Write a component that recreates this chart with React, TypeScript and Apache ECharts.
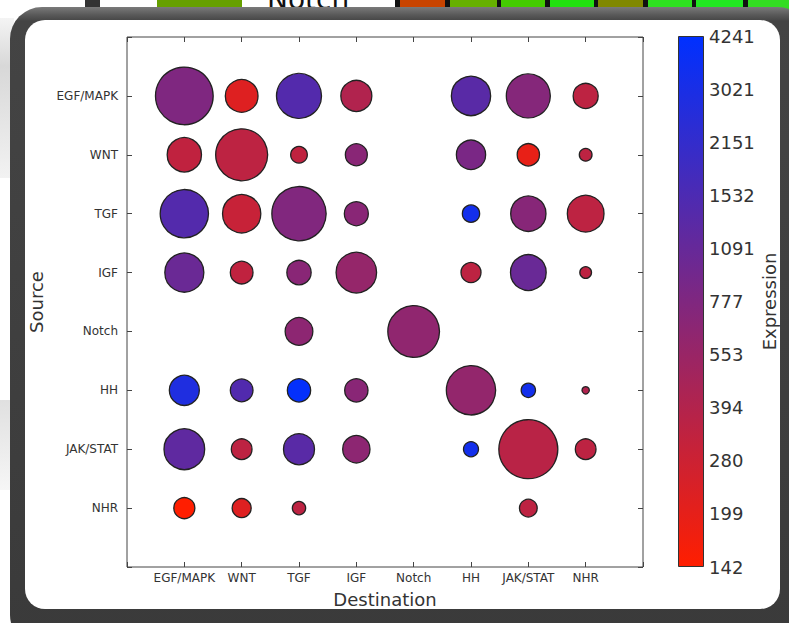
import { useEffect, useRef } from 'react';
import * as echarts from 'echarts';

const destinations = ['EGF/MAPK', 'WNT', 'TGF', 'IGF', 'Notch', 'HH', 'JAK/STAT', 'NHR'];
const sources = ['EGF/MAPK', 'WNT', 'TGF', 'IGF', 'Notch', 'HH', 'JAK/STAT', 'NHR'];
const colorbarTicks = ['142', '199', '280', '394', '553', '777', '1091', '1532', '2151', '3021', '4241'];
const EXPR_MIN = 142;
const EXPR_MAX = 4241;

// bubble size (area units), one row per source, one column per destination
const sizeEGF = [92.5, 29.7, 56.3, 26.7, null, 42.9, 53.8, 17.4];
const sizeWNT = [32.7, 75.1, 7.7, 13.4, null, 23.8, 13.8, 4.5];
const sizeTGF = [64.8, 40.7, 81.9, 16, null, 8.3, 34.6, 37.4];
const sizeIGF = [42.3, 14.3, 16.4, 45.6, null, 11.1, 35.4, 3.8];
const sizeNotch = [null, null, 21.3, null, 74.2, null, null, null];
const sizeHH = [25, 14.3, 15.1, 15.1, null, 67.5, 5.7, 1.5];
const sizeJAK = [46, 11.9, 26.7, 20.7, null, 6.25, 96.7, 11.9];
const sizeNHR = [12.3, 10, 4.9, null, null, null, 8.7, null];

// expression, one row per source
const exprEGF = [780, 220, 1400, 400, null, 1300, 720, 340];
const exprWNT = [330, 340, 330, 680, null, 830, 193, 340];
const exprTGF = [1400, 300, 760, 680, null, 3300, 700, 340];
const exprIGF = [1035, 330, 680, 585, null, 340, 1050, 340];
const exprNotch = [null, null, 650, null, 620, null, null, null];
const exprHH = [2800, 1450, 4000, 680, null, 600, 3300, 400];
const exprJAK = [1200, 340, 1300, 650, null, 3300, 360, 340];
const exprNHR = [142, 220, 340, null, null, null, 340, null];

const sizeRows = [sizeEGF, sizeWNT, sizeTGF, sizeIGF, sizeNotch, sizeHH, sizeJAK, sizeNHR];
const exprRows = [exprEGF, exprWNT, exprTGF, exprIGF, exprNotch, exprHH, exprJAK, exprNHR];

const CB_LOW = '#ff1e00';
const CB_HIGH = '#0030ff';
const FONT = 'DejaVu Sans';

const logPos = (v: number) => (10 * Math.log(v / EXPR_MIN)) / Math.log(EXPR_MAX / EXPR_MIN);

const points: any[] = [];
sizeRows.forEach((row, yi) => {
  row.forEach((s, xi) => {
    const e = exprRows[yi][xi];
    if (s != null && e != null) points.push([xi, yi, s, logPos(e), e]);
  });
});

const stripBoxes: [number, number, string][] = [
  [400, 445, '#c84400'],
  [450, 497, '#66b000'],
  [501, 545, '#44cc00'],
  [550, 594, '#22e010'],
  [598, 643, '#808800'],
  [648, 692, '#2ee020'],
  [696, 743, '#22e822'],
];

const graphics: any[] = [
  { type: 'rect', z: -30, shape: { x: 85, y: 0, width: 15, height: 12 }, style: { fill: '#333' } },
  { type: 'rect', z: -30, shape: { x: 157, y: 0, width: 85, height: 12 }, style: { fill: '#66a000' } },
  { type: 'text', z: -30, style: { text: 'Notch', x: 267, y: 13, fill: '#111', font: `28px ${FONT}`, verticalAlign: 'bottom' } },
  { type: 'rect', z: -31, shape: { x: 395, y: 0, width: 394, height: 12 }, style: { fill: '#111' } },
  ...stripBoxes.map(([a, b, c]) => ({ type: 'rect', z: -30, shape: { x: a, y: 0, width: b - a, height: 12 }, style: { fill: c } })),
  { type: 'rect', z: -30, shape: { x: 748, y: 0, width: 41, height: 70 }, style: { fill: '#33dd22' } },
  {
    type: 'rect', z: -30, shape: { x: 0, y: 18, width: 14, height: 160 },
    style: { fill: { type: 'linear', x: 0, y: 0, x2: 0, y2: 1, colorStops: [{ offset: 0, color: '#f4f4f4' }, { offset: 0.3, color: '#d8d8d8' }, { offset: 1, color: '#f2f2f2' }] } },
  },
  {
    type: 'rect', z: -30, shape: { x: 0, y: 400, width: 14, height: 90 },
    style: { fill: { type: 'linear', x: 0, y: 0, x2: 0, y2: 1, colorStops: [{ offset: 0, color: '#e0e0e0' }, { offset: 1, color: '#f6f6f6' }] } },
  },
  {
    type: 'rect', z: -20, shape: { x: 10, y: 7, width: 800, height: 640, r: 32 },
    style: { fill: { type: 'linear', x: 0, y: 0, x2: 0, y2: 1, colorStops: [{ offset: 0, color: '#7a7a7a' }, { offset: 0.012, color: '#5a5a5a' }, { offset: 0.022, color: '#444' }, { offset: 1, color: '#3a3a3a' }] } },
  },
  { type: 'rect', z: -15, shape: { x: 25, y: 20, width: 755, height: 589, r: 20 }, style: { fill: '#ffffff' } },
];

const tickStyle = { color: '#444', width: 1 };
const noLine = { show: false, onZero: false };

const option: any = {
  animation: false,
  backgroundColor: '#ffffff',
  textStyle: { fontFamily: FONT },
  graphic: graphics,
  grid: [
    { left: 127, top: 37, width: 516, height: 530, show: true, borderColor: '#444', borderWidth: 1, backgroundColor: 'transparent' },
    { left: 678, top: 36, width: 26, height: 531 },
  ],
  xAxis: [
    {
      type: 'value', gridIndex: 0, min: -1, max: 8, interval: 1, position: 'bottom',
      axisLine: noLine, splitLine: { show: false },
      axisTick: { inside: true, length: 5, lineStyle: tickStyle },
      axisLabel: { formatter: (v: number) => destinations[v] ?? '', fontSize: 12, color: '#333', margin: 5, fontFamily: FONT },
      name: 'Destination', nameLocation: 'middle', nameGap: 23,
      nameTextStyle: { fontSize: 18, color: '#333', fontFamily: FONT },
    },
    {
      type: 'value', gridIndex: 0, min: -1, max: 8, interval: 1, position: 'top',
      axisLine: noLine, splitLine: { show: false },
      axisTick: { inside: true, length: 5, lineStyle: tickStyle },
      axisLabel: { show: false },
    },
    { type: 'category', gridIndex: 1, data: ['bar'], show: false },
  ],
  yAxis: [
    {
      type: 'value', gridIndex: 0, min: -1, max: 8, interval: 1, inverse: true, position: 'left',
      axisLine: noLine, splitLine: { show: false },
      axisTick: { inside: true, length: 5, lineStyle: tickStyle },
      axisLabel: { formatter: (v: number) => sources[v] ?? '', fontSize: 12, color: '#333', margin: 9, fontFamily: FONT },
      name: 'Source', nameLocation: 'middle', nameGap: 74, nameRotate: 90,
      nameTextStyle: { fontSize: 18, color: '#333', fontFamily: FONT },
    },
    {
      type: 'value', gridIndex: 0, min: -1, max: 8, interval: 1, inverse: true, position: 'right',
      axisLine: noLine, splitLine: { show: false },
      axisTick: { inside: true, length: 5, lineStyle: tickStyle },
      axisLabel: { show: false },
    },
    {
      type: 'value', gridIndex: 1, min: 0, max: 10, interval: 1, position: 'right',
      axisLine: noLine, splitLine: { show: false },
      axisTick: { inside: true, length: 6, lineStyle: { color: '#333', width: 1 } },
      axisLabel: { formatter: (v: number) => colorbarTicks[v] ?? '', fontSize: 18, color: '#333', margin: 5, fontFamily: FONT },
      name: 'Expression', nameLocation: 'middle', nameGap: 56, nameRotate: 90,
      nameTextStyle: { fontSize: 18, color: '#333', fontFamily: FONT },
    },
  ],
  visualMap: {
    type: 'continuous', show: false, seriesIndex: 0, dimension: 3, min: 0, max: 10,
    inRange: { color: [CB_LOW, CB_HIGH] },
  },
  series: [
    {
      type: 'scatter', xAxisIndex: 0, yAxisIndex: 0, data: points,
      symbolSize: (d: number[]) => Math.sqrt(d[2]) * 6,
      itemStyle: { borderColor: '#222', borderWidth: 1.3, opacity: 1 },
      z: 3,
    },
    {
      type: 'bar', xAxisIndex: 2, yAxisIndex: 2, data: [10], barWidth: '100%', silent: true,
      itemStyle: {
        color: { type: 'linear', x: 0, y: 0, x2: 0, y2: 1, colorStops: [{ offset: 0, color: CB_HIGH }, { offset: 1, color: CB_LOW }] },
        borderColor: '#333', borderWidth: 1,
      },
    },
  ],
};

export default function App() {
  const ref = useRef<HTMLDivElement>(null);
  useEffect(() => {
    const chart = echarts.init(ref.current!, null, { renderer: 'svg' });
    chart.setOption(option);
    return () => chart.dispose();
  }, []);
  return <div ref={ref} style={{ position: 'absolute', left: 0, top: 0, width: 789, height: 623 }} />;
}
